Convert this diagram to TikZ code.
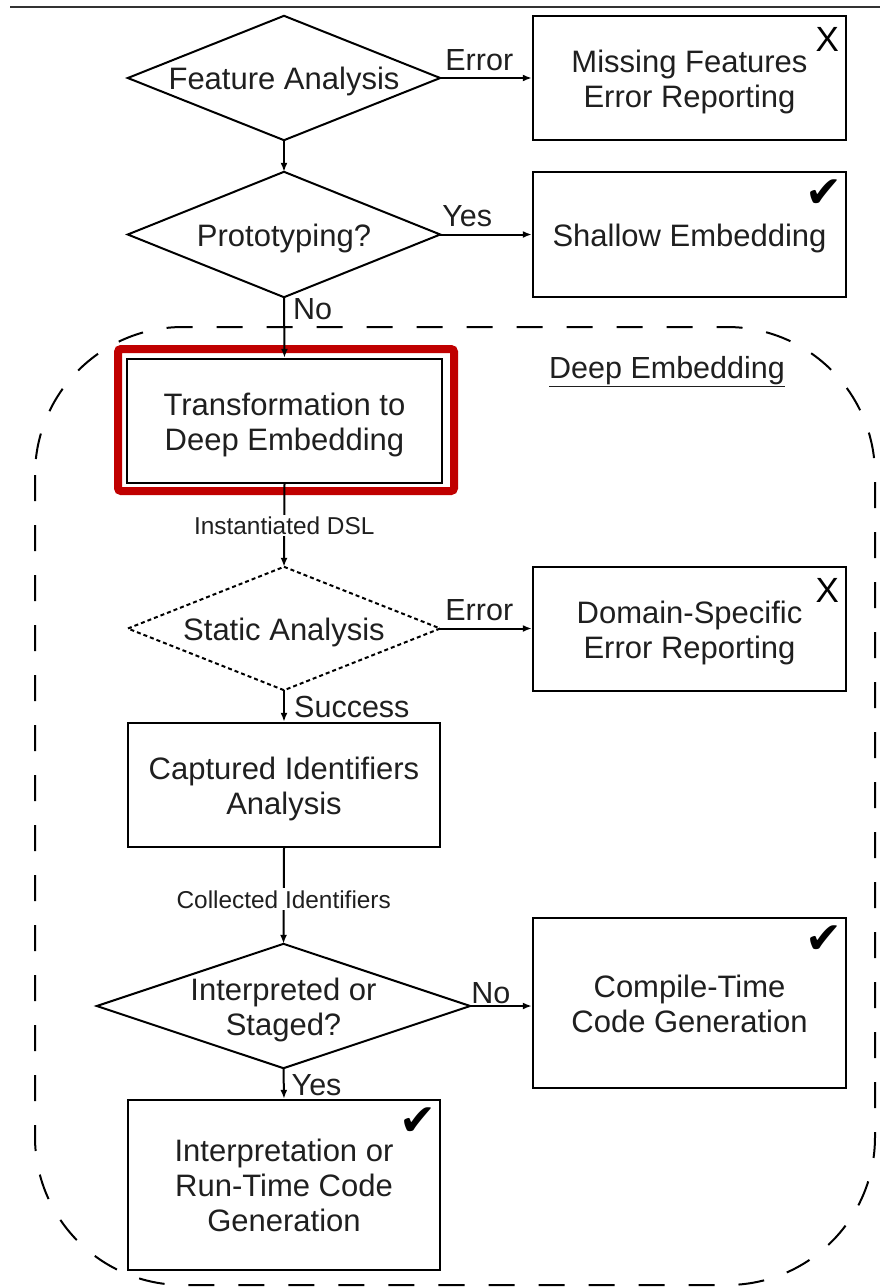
\documentclass[tikz,border=0pt]{standalone}
\usepackage{fontspec}
\setmainfont{Liberation Sans}
\newfontfamily\symfont{DejaVu Sans}
\usetikzlibrary{arrows.meta,calc}
\newcommand{\dn}[1]{\raisebox{-4.5pt}[\height][\depth]{\begin{tabular}{@{}c@{}}#1\end{tabular}}}
\begin{document}
\begin{tikzpicture}[x=1pt,y=-1pt,
  txt/.style={font=\fontsize{31}{35}\selectfont, text=black!88, align=center},
  boxnode/.style={txt, draw=black, line width=2.4pt, rectangle, inner sep=0pt, minimum width=313pt, minimum height=124pt},
  dianode/.style={txt, draw=none, rectangle, inner sep=0pt, minimum width=312pt, minimum height=124pt},
  dialine/.style={draw=black, line width=2pt, line join=miter},
  dotline/.style={draw=black, line width=2pt, dash pattern=on 4pt off 3pt},
  conn/.style={draw=black, line width=2pt, -{Latex[length=9pt,width=7pt]}},
  lbl/.style={font=\fontsize{30.5}{35}\selectfont, text=black!88, inner sep=0pt},
  small/.style={font=\fontsize{24.4}{28}\selectfont, text=black!88, fill=white, inner sep=2pt},
  xmark/.style={font=\fontsize{35}{40}\selectfont, text=black, inner sep=0pt},
  ckmark/.style={font=\symfont\fontsize{44}{48}\selectfont, text=black, inner sep=0pt}
]
\useasboundingbox (0,0) rectangle (880,1288);
\fill[white] (0,0) rectangle (880,1288);

% top rule
\draw[line width=1.5pt, black!80] (10,7) -- (880,7);

% deep embedding region
\draw[line width=2pt, dash pattern=on 26pt off 24pt, rounded corners=148pt] (35,327) rectangle (875,1285);
\node[lbl, anchor=base] (delbl) at (667,378) {\underline{Deep Embedding}};

% highlight
\draw[line width=8pt, draw={rgb,255:red,192;green,0;blue,0}, rounded corners=3pt] (118,349) rectangle (454,491);

% nodes
\node[dianode] (fa) at (284,78) {\dn{Feature Analysis}};
\node[boxnode] (mf) at (689.5,78) {\dn{Missing Features\\Error Reporting}};
\node[dianode, minimum height=125pt] (pa) at (284,234.5) {\dn{Prototyping?}};
\node[boxnode, minimum height=125pt] (se) at (689.5,234.5) {\dn{Shallow Embedding}};
\node[boxnode, minimum width=315pt] (tr) at (284.5,421) {\dn{Transformation to\\Deep Embedding}};
\node[dianode, minimum height=123pt] (sa) at (284,628.5) {\dn{Static Analysis}};
\node[boxnode] (de) at (689.5,629) {\dn{Domain-Specific\\Error Reporting}};
\node[boxnode, minimum width=312pt] (ci) at (284,785) {\dn{Captured Identifiers\\Analysis}};
\node[dianode, minimum width=373pt] (is) at (283.5,1006) {\dn{Interpreted or\\Staged?}};
\node[boxnode, minimum height=170pt] (ct) at (689.5,1003) {\dn{Compile-Time\\Code Generation}};
\node[boxnode, minimum width=312pt, minimum height=170pt] (ir) at (284,1185) {\dn{Interpretation or\\Run-Time Code\\Generation}};

% diamonds outlines
\draw[dialine] (fa.north) -- (fa.east) -- (fa.south) -- (fa.west) -- cycle;
\draw[dialine] (pa.north) -- (pa.east) -- (pa.south) -- (pa.west) -- cycle;
\draw[dotline] (sa.north) -- (sa.east) -- (sa.south) -- (sa.west) -- cycle;
\draw[dialine] (is.north) -- (is.east) -- (is.south) -- (is.west) -- cycle;

% marks
\node[xmark, anchor=north east] (x1) at ([xshift=-8pt,yshift=-12pt]mf.north east) {X};
\node[xmark, anchor=north east] (x2) at ([xshift=-8pt,yshift=-12pt]de.north east) {X};
\node[ckmark, anchor=north east] (c1) at ([xshift=-5pt,yshift=-9pt]se.north east) {✔};
\node[ckmark, anchor=north east] (c2) at ([xshift=-5pt,yshift=-9pt]ct.north east) {✔};
\node[ckmark, anchor=north east] (c3) at ([xshift=-5pt,yshift=-9pt]ir.north east) {✔};

% connectors
\draw[conn] (fa.east) -- (fa.east -| mf.west);
\draw[conn] (fa.south) -- (pa.north);
\draw[conn] (pa.east) -- (pa.east -| se.west);
\draw[conn] (pa.south) -- (tr.north);
\draw[conn] (tr.south) -- node[small, pos=0.5] (l1) {Instantiated DSL} (sa.north);
\draw[conn] (sa.east) -- (sa.east -| de.west);
\draw[conn] (sa.south) -- (ci.north);
\draw[conn] (ci.south) -- node[small, pos=0.536] (l2) {Collected Identifiers} (is.north);
\draw[conn] (is.east) -- (is.east -| ct.west);
\draw[conn] (is.south) -- (ir.north);

% edge labels
\node[lbl, anchor=south west] (e1) at ([xshift=5pt,yshift=7pt]fa.east) {Error};
\node[lbl, anchor=south west] (y1) at ([xshift=2pt,yshift=8pt]pa.east) {Yes};
\node[lbl, anchor=north west] (n1) at ([xshift=9pt,yshift=-1pt]pa.south) {No};
\node[lbl, anchor=south west] (e2) at ([xshift=5pt,yshift=8pt]sa.east) {Error};
\node[lbl, anchor=north west] (s1) at ([xshift=10pt,yshift=-6pt]sa.south) {Success};
\node[lbl, anchor=south west] (n2) at ([xshift=1pt,yshift=2pt]is.east) {No};
\node[lbl, anchor=north west] (y2) at ([xshift=8pt,yshift=-6pt]is.south) {Yes};
\end{tikzpicture}
\end{document}
